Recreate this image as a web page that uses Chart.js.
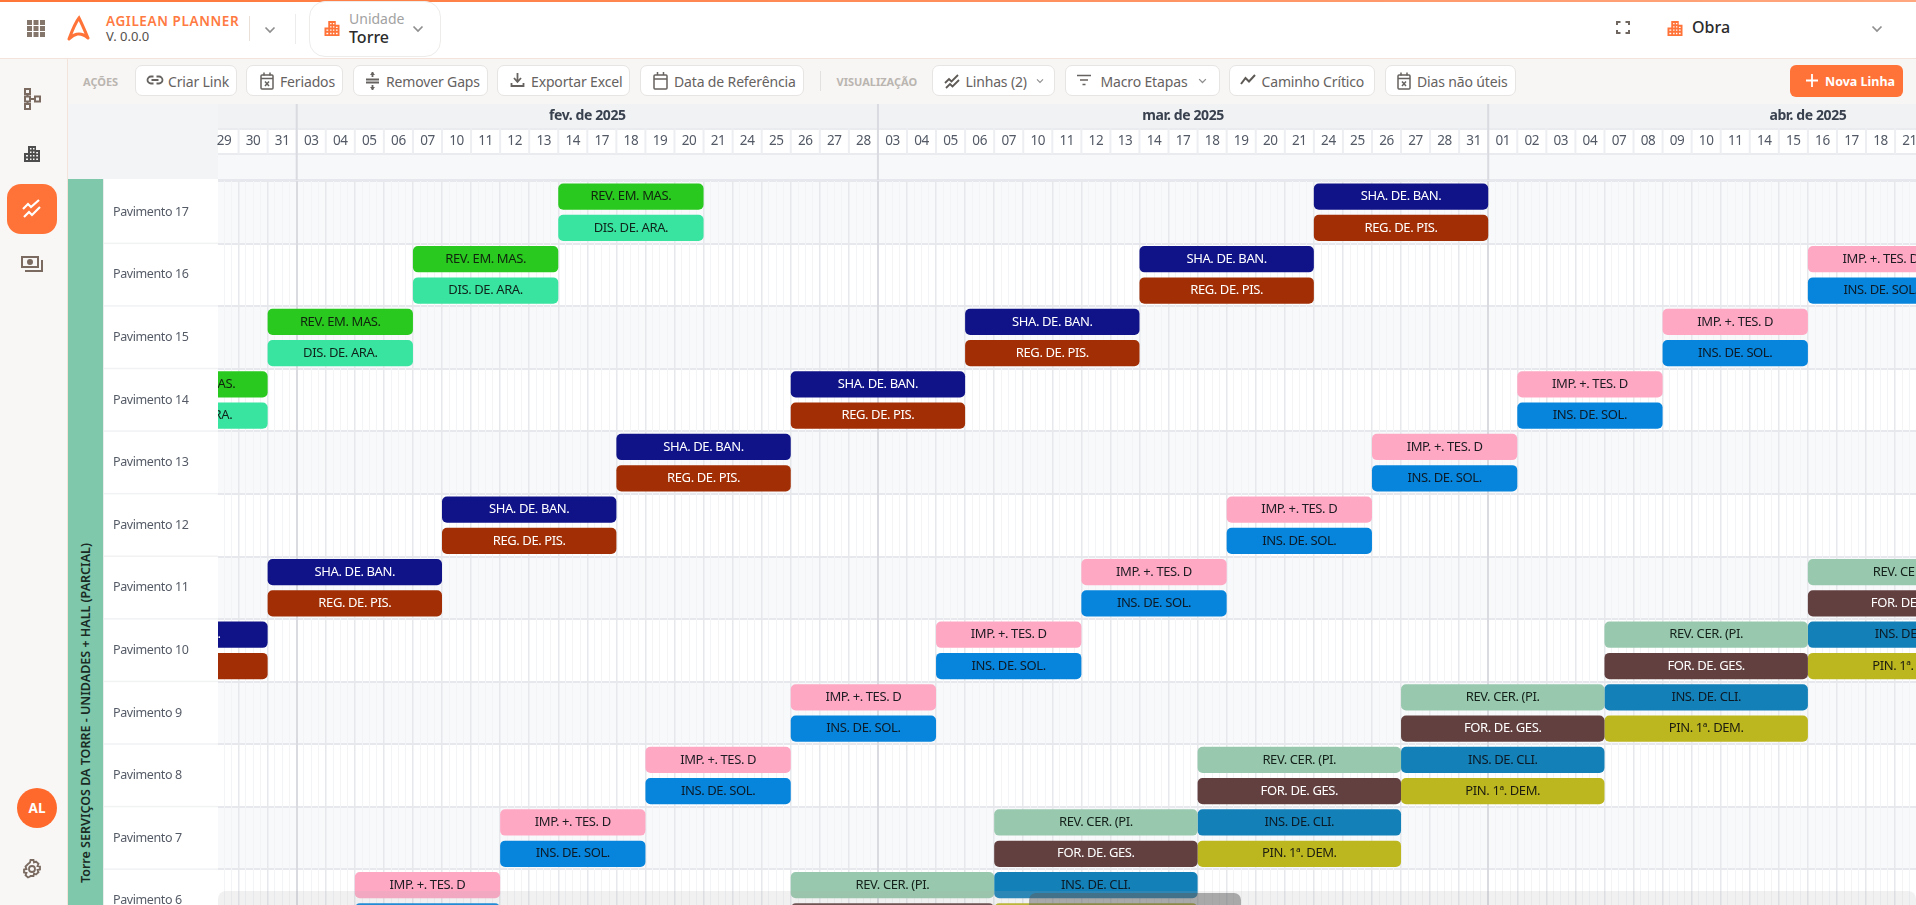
<!DOCTYPE html>
<html lang="pt-BR"><head><meta charset="utf-8"><title>Agilean Planner</title>
<script src="https://cdn.jsdelivr.net/npm/chart.js@4"></script>
<style>
html,body{margin:0;padding:0;width:1916px;height:905px;overflow:hidden;background:#fff;font-family:"Noto Sans",sans-serif}
.a{position:absolute;white-space:nowrap}
.btn{position:absolute;top:65px;height:29px;border:1.5px solid #e7e5e3;border-radius:7px;background:#fff;box-sizing:content-box}
.t{position:absolute;top:81px;transform:translateY(-50%);font-size:14px;letter-spacing:-.15px;color:#66625f;white-space:nowrap}
.lab{position:absolute;top:81px;transform:translateY(-50%);font-size:11px;font-weight:700;color:#bab5b0;white-space:nowrap}
svg{position:absolute;overflow:visible}
#chart{position:absolute;left:104px;top:104px}
</style></head><body>
<svg width="0" height="0" style="position:absolute"><defs>
<symbol id="bld" viewBox="0 0 16 16"><path fill="#ff7338" d="M0 7h4V0h8v4h4v12H0zM2 9v1.500h2V9zm0 3.500V14h2v-1.500zM6 2v1.500h1.500V2zm3 0v1.500h1.500V2zM6 5.500V7h1.500V5.500zm3 0V7h1.500V5.500zM6 9v1.500h1.500V9zm3 0v1.500h1.500V9zm3.200-3v1.500H14V6zm0 3v1.500H14V9zM6 12.500V14h1.500v-1.500zm3 0V14h1.500v-1.500zm3.200 0V14H14v-1.500z" fill-rule="evenodd"/></symbol>
<symbol id="cal" viewBox="0 0 14 18"><g fill="none" stroke="#66625f" stroke-width="1.500"><rect x="1" y="3" width="12" height="14" rx="1"/><path d="M1 6.500h12M4 .5v3M10 .5v3M5 9.500l4 4.500M9 9.500l-4 4.500"/></g></symbol>
<symbol id="zig" viewBox="0 0 16 16"><g fill="none" stroke="#5d5955" stroke-width="1.800"><path d="M1 10l4-4 2.500 2.500L14 2"/><path d="M2 15l4-4 2.500 2.500L15 7"/></g></symbol>
<symbol id="chev" viewBox="0 0 12 8"><path d="M1.500 1.500L6 6l4.500-4.500" fill="none" stroke="#8f8f8f" stroke-width="1.700"/></symbol>
</defs></svg>

<!-- header band under the canvas -->
<div class="a" style="left:68px;top:104px;width:150px;height:75px;background:#f3f4f6"></div>
<div class="a" style="left:218px;top:104px;width:1698px;height:24px;background:#f1f2f4"></div>
<div class="a" style="left:218px;top:128px;width:1698px;height:2px;background:#e9ebee"></div>
<div class="a" style="left:218px;top:153px;width:1698px;height:2px;background:#e9ebee"></div>
<div class="a" style="left:218px;top:155px;width:1698px;height:24px;background:#f7f8fa"></div>
<div class="a" style="left:218px;top:179px;width:1698px;height:2px;background:#e6e8ed"></div>

<canvas id="chart" width="1812" height="828" role="img" aria-label="Cronograma por pavimento"></canvas>

<!-- top bar -->
<div class="a" style="left:0;top:0;width:1916px;height:58px;background:#fff;border-bottom:1px solid #f3e3da"></div>
<div class="a" style="left:0;top:0;width:1916px;height:2px;background:linear-gradient(90deg,#ff7638,#ffa77f)"></div>
<svg style="left:27px;top:20px" width="18" height="17" fill="#85766c"><rect width="5" height="5"/><rect x="6.500" width="5" height="5"/><rect x="13" width="5" height="5"/><rect y="6" width="5" height="5"/><rect x="6.500" y="6" width="5" height="5"/><rect x="13" y="6" width="5" height="5"/><rect y="12" width="5" height="5"/><rect x="6.500" y="12" width="5" height="5"/><rect x="13" y="12" width="5" height="5"/></svg>
<svg style="left:67px;top:16px" width="24" height="24"><path d="M2 23C5 15 8 7 12 2c3 6 6 13 9 20M2 23c5-5 11-8 19-1" fill="none" stroke="#ff7338" stroke-width="3" stroke-linecap="round"/></svg>
<div class="a" style="left:106px;top:11.500px;font-size:13.500px;font-weight:600;letter-spacing:.6px;color:#ff7a42;line-height:18px">AGILEAN PLANNER</div>
<div class="a" style="left:106px;top:26.500px;font-size:13px;color:#55504c;line-height:18px">V. 0.0.0</div>
<div class="a" style="left:248.500px;top:16px;width:1.500px;height:25px;background:#ecdfd7"></div>
<svg style="left:264px;top:25.500px" width="12" height="8"><use href="#chev" width="12" height="8"/></svg>
<div class="a" style="left:295px;top:14px;width:1px;height:30px;background:#ececec"></div>
<div class="a" style="left:308.500px;top:1px;width:130px;height:54px;border:1px solid #eeeceb;border-radius:16px;background:#fff"></div>
<svg style="left:324px;top:21px" width="16" height="15"><use href="#bld" width="16" height="15"/></svg>
<div class="a" style="left:349px;top:9px;font-size:14px;color:#a2a2a2;line-height:19px">Unidade</div>
<div class="a" style="left:349px;top:26px;font-size:16px;font-weight:500;color:#2b2b2b;line-height:22px">Torre</div>
<svg style="left:412px;top:25px" width="12" height="8"><use href="#chev" width="12" height="8"/></svg>
<svg style="left:1615.500px;top:21px" width="14" height="13" fill="none" stroke="#6f675f" stroke-width="2"><path d="M1 4V1h3.500M9.500 1H13v3M13 9v3H9.500M4.500 12H1V9"/></svg>
<svg style="left:1667px;top:21px" width="16" height="15"><use href="#bld" width="16" height="15"/></svg>
<div class="a" style="left:1692px;top:16px;font-size:16px;font-weight:500;color:#2b2b2b;line-height:22px">Obra</div>
<svg style="left:1871px;top:25px" width="12" height="8"><use href="#chev" width="12" height="8"/></svg>

<!-- toolbar -->
<div class="a" style="left:0;top:59px;width:1916px;height:45px;background:#f7f6f4"></div>
<div class="lab" style="left:83px">AÇÕES</div>
<div class="btn" style="left:135px;width:100px"></div>
<svg style="left:147px;top:75px" width="16" height="11" fill="none" stroke="#66625f" stroke-width="1.800"><path d="M6.500 1.500H4a3.500 3.500 0 000 7h2.500M9.500 1.500H12a3.500 3.500 0 010 7H9.500M4.500 5h7"/></svg>
<div class="t" style="left:168px">Criar Link</div>
<div class="btn" style="left:246px;width:95px"></div>
<svg style="left:260px;top:72px" width="14" height="18"><use href="#cal" width="14" height="18"/></svg>
<div class="t" style="left:280px">Feriados</div>
<div class="btn" style="left:353px;width:133px"></div>
<svg style="left:366px;top:72px" width="13" height="18" fill="none" stroke="#66625f" stroke-width="1.800"><path d="M0 7.500h13M0 10.500h13M6.500 0v5M6.500 13v5"/><path d="M4 3l2.500-3L9 3M4 15l2.500 3L9 15" fill="#66625f" stroke="none"/></svg>
<div class="t" style="left:386px">Remover Gaps</div>
<div class="btn" style="left:497px;width:131px"></div>
<svg style="left:511px;top:73px" width="13" height="14" fill="none" stroke="#66625f" stroke-width="1.800"><path d="M6.500 0v8M3 5l3.500 4L10 5M.5 10v3h12v-3"/></svg>
<div class="t" style="left:531px">Exportar Excel</div>
<div class="btn" style="left:640px;width:161.500px"></div>
<svg style="left:653px;top:72px" width="15" height="18" fill="none" stroke="#66625f" stroke-width="1.500"><rect x="1" y="3" width="13" height="14" rx="1"/><path d="M1 7h13M4.500 0v3M10.500 0v3"/></svg>
<div class="t" style="left:674px">Data de Referência</div>
<div class="a" style="left:820px;top:71px;width:1px;height:20px;background:#e3e1df"></div>
<div class="lab" style="left:836.500px">VISUALIZAÇÃO</div>
<div class="btn" style="left:932px;width:121px"></div>
<svg style="left:944px;top:73px" width="16" height="16"><use href="#zig" width="16" height="16"/></svg>
<div class="t" style="left:965.500px">Linhas (2)</div>
<svg style="left:1036px;top:78px" width="8" height="6"><use href="#chev" width="8" height="6"/></svg>
<div class="btn" style="left:1064.500px;width:153px"></div>
<svg style="left:1077px;top:74px" width="14" height="13" fill="none" stroke="#66625f" stroke-width="1.600"><path d="M0 1.500h14M3 6h8M5.500 10.500h3"/></svg>
<div class="t" style="left:1100.500px">Macro Etapas</div>
<svg style="left:1198px;top:78px" width="9" height="6"><use href="#chev" width="9" height="6"/></svg>
<div class="btn" style="left:1228.500px;width:144px"></div>
<svg style="left:1240px;top:74px" width="16" height="11" fill="none" stroke="#5d5955" stroke-width="2"><path d="M1 10l4.500-6L9 7.500 15 1"/></svg>
<div class="t" style="left:1261.500px">Caminho Crítico</div>
<div class="btn" style="left:1384.500px;width:129px"></div>
<svg style="left:1396.500px;top:72px" width="14" height="18"><use href="#cal" width="14" height="18"/></svg>
<div class="t" style="left:1417px">Dias não úteis</div>
<div class="a" style="left:1790px;top:65px;width:113px;height:32px;border-radius:6px;background:#ff7338"></div>
<svg style="left:1806px;top:74px" width="12" height="13" stroke="#fff" stroke-width="1.800"><path d="M6 0v13M0 6.500h12"/></svg>
<div class="a" style="left:1825px;top:81px;transform:translateY(-50%);font-size:12.500px;font-weight:700;color:#fff">Nova Linha</div>

<!-- sidebar -->
<div class="a" style="left:0;top:59px;width:67px;height:846px;background:#f8f7f5;border-right:1px solid #f2e4da"></div>
<svg style="left:24px;top:88px" width="18" height="22" fill="none" stroke="#7a6a60" stroke-width="2"><rect x="1" y="1" width="5" height="5"/><rect x="1" y="8.500" width="5" height="5"/><rect x="1" y="16" width="5" height="5"/><rect x="11" y="8.500" width="5" height="5"/><path d="M3.500 6v2.500M3.500 13.500V16M6 11h5"/></svg>
<svg style="left:23px;top:146px" width="18" height="16" viewBox="0 0 16 16"><use href="#bld" width="16" height="16" style="filter:grayscale(1) brightness(.55)"/></svg>
<div class="a" style="left:7px;top:184px;width:50px;height:50px;border-radius:14px;background:#ff7338"></div>
<svg style="left:22px;top:199px" width="20" height="20" fill="none" stroke="#fff" stroke-width="2.200"><path d="M1 10l5-5 3 3 8-7"/><path d="M2 18l5-5 3 3 8-8"/></svg>
<svg style="left:21px;top:256px" width="22" height="16" fill="none" stroke="#7a6a60" stroke-width="2"><rect x="1" y="1" width="16" height="10"/><circle cx="9" cy="6" r="2" fill="#7a6a60"/><path d="M21 4v11H4"/></svg>
<div class="a" style="left:17px;top:788px;width:40px;height:40px;border-radius:50%;background:#ff6a2c;color:#fff;font-size:13.500px;font-weight:700;text-align:center;line-height:40px">AL</div>
<svg style="left:22px;top:859px" width="20" height="20" fill="none" stroke="#7a6a60" stroke-width="1.800"><circle cx="10" cy="10" r="3"/><path d="M8.500 1h3l.5 2.500 2-1 2.500 2.200-1 2.300 2.500.5v3l-2.500.5 1 2.300-2.500 2.200-2-1-.5 2.500h-3L8 17.500l-2 1-2.500-2.200 1-2.300L2 13.500v-3L4.500 10l-1-2.500L6 5 8 3.500z"/></svg>

<!-- tower band -->
<div class="a" style="left:68px;top:179px;width:34.500px;height:726px;background:#7fc8ab"></div>
<div class="a" style="left:102.500px;top:179px;width:1.500px;height:726px;background:#e9eeec"></div>
<div class="a" style="left:85px;top:713px;transform:translate(-50%,-50%) rotate(-90deg);font-size:12.500px;font-weight:600;color:#1a2a24">Torre SERVIÇOS DA TORRE - UNIDADES + HALL (PARCIAL)</div>

<!-- scrollbar -->
<div class="a" style="left:218px;top:891px;width:1698px;height:14px;border-radius:8px 8px 0 0;background:rgba(170,170,170,.17)"></div>
<div class="a" style="left:1029px;top:893px;width:212px;height:12px;border-radius:7px 7px 0 0;background:rgba(90,90,90,.48)"></div>

<script>
// Row categories
const rows = ["Pavimento 17","Pavimento 16","Pavimento 15","Pavimento 14","Pavimento 13","Pavimento 12","Pavimento 11","Pavimento 10","Pavimento 9","Pavimento 8","Pavimento 7","Pavimento 6"];
// Working-day columns shown in the header (index = column number)
const dayLabels = ["29","30","31",
 "03","04","05","06","07","10","11","12","13","14","17","18","19","20","21","24","25","26","27","28",
 "03","04","05","06","07","10","11","12","13","14","17","18","19","20","21","24","25","26","27","28","31",
 "01","02","03","04","07","08","09","10","11","14","15","16","17","18","21"];
const monthLabels = ["fev. de 2025","mar. de 2025","abr. de 2025"];
const monthFirstColumn = [3,23,44];
const monthEndColumn = [23,44,66];
// Activity bars: first and past-the-end column per row
const revEmMasStart = [12,7,2,-3,null,null,null,null,null,null,null,null];
const revEmMasEnd   = [17,12,7,2,null,null,null,null,null,null,null,null];
const shaDeBanStart = [38,32,26,20,14,8,2,-4,null,null,null,null];
const shaDeBanEnd   = [44,38,32,26,20,14,8,2,null,null,null,null];
const impTesStart   = [null,55,50,45,40,35,30,25,20,15,10,5];
const impTesEnd     = [null,60,55,50,45,40,35,30,25,20,15,10];
const revCerStart   = [null,null,null,null,null,null,55,48,41,34,27,20];
const revCerEnd     = [null,null,null,null,null,null,62,55,48,41,34,27];
const insCliStart   = [null,null,null,null,null,null,null,55,48,41,34,27];
const insCliEnd     = [null,null,null,null,null,null,null,62,55,48,41,34];
const spans = (s,e) => s.map((v,i) => v===null ? null : [v,e[i]]);
const activities = [
 ["REV. EM. MAS.", revEmMasStart,revEmMasEnd,"top","#29c91f","#10240e"],
 ["DIS. DE. ARA.", revEmMasStart,revEmMasEnd,"bottom","#38e4a0","#10241c"],
 ["SHA. DE. BAN.", shaDeBanStart,shaDeBanEnd,"top","#101388","#ffffff"],
 ["REG. DE. PIS.", shaDeBanStart,shaDeBanEnd,"bottom","#a12e04","#ffffff"],
 ["IMP. +. TES. D", impTesStart,impTesEnd,"top","#ffa8c4","#1c1c22"],
 ["INS. DE. SOL.", impTesStart,impTesEnd,"bottom","#0785dd","#0c1a26"],
 ["REV. CER. (PI.", revCerStart,revCerEnd,"top","#98c9ae","#14201a"],
 ["FOR. DE. GES.", revCerStart,revCerEnd,"bottom","#634040","#ffffff"],
 ["INS. DE. CLI.", insCliStart,insCliEnd,"top","#1380b8","#0c1a26"],
 ["PIN. 1ª. DEM.", insCliStart,insCliEnd,"bottom","#bdb71f","#1c1c10"]
];
const xMin = 0.292, xMax = 58.72;
const noPad = s => {s.paddingLeft=0;s.paddingRight=0;s.paddingTop=0;s.paddingBottom=0;};

const ganttBack = {
 id:"ganttBack",
 beforeDraw(c){
  const g=c.ctx,a=c.chartArea,y=c.scales.y,x=c.scales.x;
  g.letterSpacing="-0.4px";
  g.save();
  const h=y.getPixelForValue(1)-y.getPixelForValue(0);
  rows.forEach((r,i)=>{
    const top=y.getPixelForValue(i)-h/2;
    if(i%2===0){g.fillStyle="#f8f9fb";g.fillRect(a.left,top,a.width,h);}
    g.fillStyle="#f1f2f4";g.fillRect(0,top+h-1,a.left,1.5);
  });
  dayLabels.forEach((d,i)=>{
    const px=x.getPixelForValue(i);
    if(i>0&&px>=a.left){g.fillStyle="#eceef1";g.fillRect(px-1,24,2,26);}
  });
  g.fillStyle="#d9dbe1";
  monthFirstColumn.forEach(m=>{const px=x.getPixelForValue(m);g.fillRect(px-1,0,2,a.top);});
  g.restore();
 }
};
const barText = {
 id:"barText",
 afterDatasetsDraw(c){
  const g=c.ctx,a=c.chartArea;
  g.save();g.beginPath();g.rect(a.left,a.top,a.width,a.height);g.clip();
  g.font='13px "Noto Sans"';g.textAlign="center";g.textBaseline="middle";
  activities.forEach((act,di)=>{
    c.getDatasetMeta(di).data.forEach((el,i)=>{
      if(act[1][i]===null)return;
      const p=el.getCenterPoint();
      g.fillStyle=act[5];g.fillText(act[0],p.x,p.y);
    });
  });
  g.restore();
 }
};
new Chart(document.getElementById("chart"),{
 type:"bar",
 plugins:[ganttBack,barText],
 data:{labels:rows,datasets:activities.map(a=>({
   label:a[0],data:spans(a[1],a[2]),stack:a[3],backgroundColor:a[4],
   borderWidth:0,borderRadius:5,borderSkipped:false,
   categoryPercentage:1,barPercentage:.84,xAxisID:"x",yAxisID:"y"}))},
 options:{
  indexAxis:"y",responsive:false,animation:false,devicePixelRatio:1,
  layout:{padding:{left:9,right:0,top:0,bottom:0}},
  plugins:{legend:{display:false},tooltip:{enabled:false},title:{display:false}},
  scales:{
   y:{type:"category",position:"left",offset:true,
      grid:{offset:true,color:"#e6e8ed",lineWidth:2,drawTicks:false},border:{display:false},
      ticks:{crossAlign:"far",padding:0,color:"#555b66",font:{family:"Noto Sans",size:12.5}},
      afterFit(s){s.width=105;noPad(s);}},
   x:{type:"linear",position:"top",stacked:false,min:xMin,max:xMax,weight:1,
      grid:{drawTicks:false,
        color(ctx){const v=ctx.tick.value;
          if(monthFirstColumn.includes(v))return"#d9dbe1";
          return Number.isInteger(v)?"#e6e8ec":"#f3f4f6";},
        lineWidth(ctx){const v=ctx.tick.value;
          if(monthFirstColumn.includes(v))return 2;
          return Number.isInteger(v)?1.5:1;}},
      border:{display:false},
      ticks:{display:false},
      afterBuildTicks(s){const t=[];for(let v=0;v<=59;v+=.25){if(v>=xMin&&v<=xMax)t.push({value:v});}s.ticks=t;},
      afterFit(s){s.height=27;noPad(s);}},
   x2:{type:"linear",position:"top",min:xMin-.5,max:xMax-.5,weight:2,
      grid:{display:false},border:{display:false},
      ticks:{autoSkip:false,maxRotation:0,padding:-3,color:"#535a66",font:{family:"Noto Sans",size:13.5},
        callback:(v)=>dayLabels[v]},
      afterBuildTicks(s){s.ticks=dayLabels.map((d,i)=>({value:i})).filter(t=>t.value>=xMin-.5&&t.value<=xMax-.5);},
      afterFit(s){s.height=26;noPad(s);}},
   x3:{type:"linear",position:"top",min:xMin,max:xMax,weight:3,
      grid:{display:false},border:{display:false},
      ticks:{autoSkip:false,maxRotation:0,padding:-4.5,color:"#39414f",font:{family:"Noto Sans",size:14,weight:"700"},
        callback:(v,i)=>monthLabels[i]},
      afterBuildTicks(s){s.ticks=monthFirstColumn.map((m,i)=>({value:(m+monthEndColumn[i])/2}));},
      afterFit(s){s.height=24;noPad(s);}}
  }
 }
});
</script>
</body></html>
